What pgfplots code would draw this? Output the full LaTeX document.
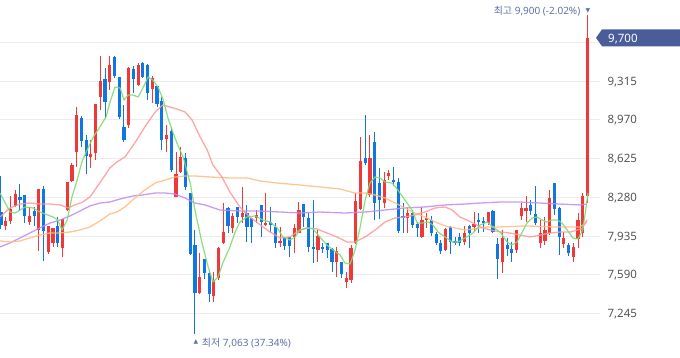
\documentclass[border=0pt]{standalone}
\usepackage{fontspec}
\setmainfont{Noto Sans}
\newfontfamily\cjk{Noto Sans CJK KR}
\newfontfamily\sym{DejaVu Sans}
\usepackage{pgfplots}
\pgfplotsset{compat=1.18}
\usepackage{pgfplotstable}
\usetikzlibrary{calc}
\definecolor{cRed}{RGB}{240,56,56}
\definecolor{cBlue}{RGB}{16,118,228}
\definecolor{cGreen}{RGB}{125,220,115}
\definecolor{cPink}{RGB}{255,150,150}
\definecolor{cOrange}{RGB}{255,187,128}
\definecolor{cPurple}{RGB}{192,138,245}
\definecolor{cGrid}{RGB}{236,236,236}
\definecolor{cTick}{RGB}{85,85,85}
\definecolor{cLab}{RGB}{96,112,170}
\definecolor{cTag}{RGB}{74,93,153}

\pgfplotstableread{
i o h l c
1 8025 8105 7989 8069
2 8069 8292 8042 8176
3 8203 8345 8194 8309
6 8060 8194 8034 8114
8 7989 8354 7802 8354
10 7793 8025 7775 8025
11 7873 8007 7838 8007
13 7829 8087 7748 8087
14 8167 8416 8158 8416
15 8425 8585 8416 8568
16 8684 9084 8550 9013
19 8639 8790 8541 8666
20 8675 9111 8612 9111
21 9173 9538 9057 9315
23 9307 9538 9235 9458
27 8924 9440 8897 9431
29 9280 9476 9271 9458
32 9244 9360 9120 9342
35 8799 8924 8684 8835
37 8283 8684 8280 8487
38 8505 8728 8496 8639
42 7428 7784 7419 7571
45 7401 7615 7348 7544
46 7562 7835 7544 7829
47 7873 8229 7868 7971
49 8007 8140 7962 8114
51 8105 8372 8051 8140
54 8096 8167 8051 8122
56 8034 8318 8025 8051
59 7873 8016 7838 7891
62 7927 8042 7784 8007
63 7962 8238 7958 8167
67 7811 7989 7704 7936
71 7704 7838 7571 7802
73 7526 7615 7473 7562
74 7544 7855 7517 7829
75 7873 8318 7864 8247
76 8176 8817 8167 8603
78 8300 8835 8283 8630
81 8229 8505 8185 8434
82 8470 8523 8434 8496
86 8096 8185 7962 8140
89 7927 8194 7922 8078
90 8078 8140 8007 8096
94 7811 8007 7802 7998
98 7882 8025 7855 7962
100 8016 8149 7971 8042
103 8051 8153 8034 8149
106 7704 7989 7606 7918
109 7811 7993 7784 7989
110 8114 8229 8078 8185
111 8158 8292 8060 8185
114 7873 8078 7829 7962
115 7891 8105 7855 7989
116 7962 8345 7944 8274
119 7864 7971 7829 7918
121 7748 7873 7704 7838
122 7909 8140 7829 8078
123 7962 8318 7927 8292
124 8292 9900 8229 9700
}\redT

\pgfplotstableread{
i o h l c
0 8149 8470 7998 8034
4 8283 8398 8167 8256
5 8300 8300 8051 8114
7 8158 8194 8025 8114
9 8354 8381 7713 7980
12 8025 8105 7838 7873
17 8986 9004 8728 8781
18 8790 8835 8487 8648
22 9333 9431 8977 9128
24 9529 9538 9342 9360
25 9351 9351 8977 8995
26 8906 9102 8772 8790
28 9422 9449 9209 9333
30 9476 9485 9345 9351
31 9458 9465 9146 9209
33 9271 9275 9084 9111
34 9137 9173 8701 8790
36 8870 8906 8505 8523
39 8630 8675 8345 8372
40 8318 8320 7766 7775
41 7855 7989 7063 7428
43 7731 7735 7553 7606
44 7606 7630 7348 7419
48 8185 8194 7962 8025
50 8194 8198 8051 8105
52 8140 8212 7882 8016
53 8096 8100 7873 8016
55 8212 8215 7927 8060
57 8060 8194 7962 8034
58 8016 8051 7829 7873
60 7918 7920 7811 7846
61 7927 7930 7748 7846
64 8220 8224 8016 8105
65 8096 8140 7793 7838
66 7838 8256 7695 7825
68 7838 7873 7784 7820
69 7873 7877 7740 7811
70 7820 7825 7615 7704
72 7704 7708 7562 7597
77 8630 9013 8568 8585
79 8772 8861 8078 8229
80 8407 8541 8087 8256
83 8434 8550 8381 8416
84 8416 8452 7962 7980
85 8114 8229 7962 8096
87 8140 8167 8007 8034
88 8042 8060 7927 8007
91 8078 8114 7936 7962
92 7953 7971 7855 7873
93 7873 7900 7775 7802
95 8016 8020 7775 7882
96 7887 7927 7855 7873
97 7927 7962 7846 7873
99 8025 8034 7829 7962
101 8078 8140 7962 8060
102 8069 8105 7971 8047
104 8158 8167 7962 7971
105 7864 7918 7553 7731
107 7855 7918 7757 7820
108 7820 7882 7704 7784
112 8212 8256 8122 8158
113 8131 8381 8034 8051
117 8407 8410 8122 8176
118 8185 8190 7766 7927
120 7855 7873 7757 7784
}\blueT

\newcommand\tickfont{\fontsize{11.5}{13}\selectfont}

\begin{document}
\begin{tikzpicture}[x=1pt,y=1pt]
\path[use as bounding box] (0,0) rectangle (680,358);
\begin{axis}[
  at={(0pt,0pt)}, anchor=south west,
  width=600pt, height=358pt, scale only axis,
  xmin=-0.211, xmax=126.64, ymin=6849, ymax=10037,
  clip=false,
  axis line style={draw=none},
  major tick length=0pt,
  xtick=\empty,
  ytick={7245,7590,7935,8280,8625,8970,9315,9660},
  yticklabels={{7,245},{7,590},{7,935},{8,280},{8,625},{8,970},{9,315},{}},
  yticklabel pos=right,
  yticklabel style={anchor=west, xshift=4pt, text depth=0pt, font=\tickfont, text=cTick},
  ymajorgrids,
  grid style={draw=cGrid, line width=0.8pt},
  candle/.style={draw=none, mark=none, forget plot, error bars/.cd, y dir=both, y explicit, error mark=none},
]
% wicks
\addplot[candle, error bar style={draw=cRed, solid, line width=1pt}]
  table[x=i, y expr={(\thisrow{h}+\thisrow{l})/2}, y error expr={(\thisrow{h}-\thisrow{l})/2}] {\redT};
\addplot[candle, error bar style={draw=cBlue, solid, line width=1pt}]
  table[x=i, y expr={(\thisrow{h}+\thisrow{l})/2}, y error expr={(\thisrow{h}-\thisrow{l})/2}] {\blueT};
% bodies
\addplot[candle, error bar style={draw=cRed, solid, line width=3.2pt}]
  table[x=i, y expr={(\thisrow{o}+\thisrow{c})/2}, y error expr={max(abs(\thisrow{c}-\thisrow{o})/2,6)}] {\redT};
\addplot[candle, error bar style={draw=cBlue, solid, line width=3.2pt}]
  table[x=i, y expr={(\thisrow{o}+\thisrow{c})/2}, y error expr={max(abs(\thisrow{c}-\thisrow{o})/2,6)}] {\blueT};

% moving averages
\addplot[cPurple, line width=1.3pt, opacity=0.85, mark=none, line join=round] coordinates {
(-0.2,7838) (1.9,7873) (4.0,7918) (6.1,7962) (8.2,8007) (10.4,8051) (12.5,8078) (14.6,8114) (16.7,8158) (18.8,8203) (20.9,8229) (23.0,8238) (25.2,8265) (27.9,8292) (29.8,8300) (32.6,8318) (34.7,8318) (36.8,8309) (38.9,8274) (41.0,8229) (43.1,8212) (46.3,8167) (50.5,8158) (54.8,8158) (59.0,8149) (63.2,8140) (67.4,8149) (72.7,8140) (77.0,8149) (81.2,8167) (85.4,8185) (89.6,8194) (93.9,8212) (98.1,8220) (101.3,8229) (105.5,8238) (109.7,8238) (114.0,8229) (118.2,8220) (122.4,8212) (123.9,8220)
};
\addplot[cOrange, line width=1.3pt, opacity=0.85, mark=none, line join=round] coordinates {
(-0.2,7891) (1.9,7882) (4.0,7891) (6.1,7918) (8.2,7944) (10.4,7962) (12.5,7962) (14.6,7971) (16.7,7989) (18.8,8016) (20.9,8069) (23.0,8131) (24.5,8149) (26.2,8194) (28.3,8274) (30.4,8345) (32.6,8407) (34.7,8434) (36.8,8461) (38.9,8470) (41.0,8470) (44.2,8461) (48.4,8452) (52.0,8452) (54.8,8425) (58.4,8407) (63.2,8390) (67.4,8372) (71.7,8354) (74.8,8318) (77.0,8318) (79.1,8300) (81.2,8274) (83.3,8229) (85.4,8185) (87.5,8140) (89.6,8105) (91.8,8060) (93.9,8025) (96.0,8007) (98.1,7989) (99.8,7998) (102.8,8016) (105.5,8016) (111.2,8025) (116.7,8016) (122.4,8016) (123.9,8060)
};
\addplot[cPink, line width=1.3pt, opacity=0.85, mark=none, line join=round] coordinates {
(-0.2,8105) (1.9,8185) (4.0,8220) (6.1,8229) (8.2,8220) (10.4,8220) (12.5,8212) (14.2,8185) (15.6,8212) (17.3,8238) (18.8,8283) (20.3,8372) (21.6,8452) (23.0,8541) (24.5,8594) (26.2,8639) (28.3,8764) (30.4,8906) (32.6,9040) (34.2,9102) (35.7,9084) (37.2,9066) (38.9,9040) (40.4,8968) (42.1,8817) (43.6,8701) (44.8,8568) (46.7,8461) (48.4,8327) (50.5,8194) (52.6,8105) (54.8,8034) (56.9,7971) (59.0,7918) (61.1,7927) (63.2,7989) (64.9,8007) (66.8,7998) (68.9,7962) (71.0,7927) (73.2,7882) (74.8,7882) (77.0,7927) (79.1,7989) (81.2,8060) (83.3,8096) (85.4,8105) (87.5,8122) (89.6,8149) (91.8,8185) (93.9,8194) (95.4,8167) (97.0,8105) (98.5,8078) (99.8,8051) (101.3,8016) (103.4,7989) (105.5,7971) (107.6,7962) (109.7,7944) (111.8,7927) (114.0,7944) (116.1,7962) (118.2,7971) (120.3,7971) (121.8,7989) (122.8,7998) (123.9,8078)
};
\addplot[cGreen, line width=1.2pt, opacity=0.9, mark=none, line join=round] coordinates {
(-0.2,8318) (1.9,8149) (3.0,8140) (5.1,8194) (6.8,8185) (8.2,8149) (9.9,8122) (11.0,8105) (12.0,8078) (12.9,7989) (14.0,8078) (15.0,8283) (16.1,8434) (17.1,8594) (18.2,8701) (19.5,8817) (20.9,8906) (22.2,8995) (23.0,9120) (24.1,9262) (25.2,9253) (26.0,9146) (26.9,9191) (27.9,9191) (29.0,9173) (30.0,9253) (31.1,9351) (32.1,9324) (33.2,9262) (34.3,9146) (35.3,8986) (36.4,8853) (37.2,8764) (38.5,8639) (40.0,8407) (41.0,8167) (42.5,7873) (43.8,7660) (44.8,7526) (45.9,7571) (46.9,7695) (48.4,7838) (49.5,7971) (50.5,8060) (52.0,8105) (53.7,8114) (55.4,8078) (56.9,8060) (58.4,8007) (59.6,7927) (61.1,7900) (62.2,7927) (63.2,7989) (64.7,8007) (66.0,7998) (67.4,7927) (68.9,7855) (70.2,7811) (71.7,7766) (72.7,7695) (73.8,7686) (74.8,7802) (75.9,8007) (77.0,8256) (78.0,8407) (79.1,8461) (80.1,8452) (81.2,8416) (82.7,8407) (83.9,8345) (85.4,8256) (86.9,8167) (88.0,8051) (89.0,8051) (90.3,8060) (91.3,8034) (92.4,7971) (93.9,7927) (95.4,7882) (96.6,7882) (98.1,7918) (99.8,7962) (101.3,8034) (102.8,8060) (104.0,8016) (105.5,7971) (107.0,7882) (108.0,7855) (109.1,7882) (110.2,7971) (111.2,8051) (112.3,8096) (113.3,8105) (114.4,8078) (115.4,8060) (116.5,8078) (117.6,8078) (118.6,8051) (119.7,7989) (120.9,7918) (122.0,7909) (123.0,7989) (123.7,8194) (124.1,8318)
};

% high / low annotations
\node[anchor=south east, inner sep=0pt, text=cLab, font=\fontsize{10}{12}\selectfont, text height=7.5pt, text depth=2pt]
  at ($(axis cs:124,9900)+(-7pt,-1pt)$) {{\cjk 최고} 9,900 (-2.02\%)};
\node[inner sep=0pt, text=cLab, font=\fontsize{6}{7}\sym, text height=3.5pt, text depth=0pt] at ($(axis cs:124,9900)+(0.5pt,5pt)$) {▼};
\node[inner sep=0pt, text=cLab, font=\fontsize{6}{7}\sym, text height=3.5pt, text depth=0pt] at ($(axis cs:41,7063)+(1pt,-8pt)$) {▲};
\node[anchor=west, inner sep=0pt, text=cLab, font=\fontsize{10}{12}\selectfont]
  at ($(axis cs:41,7063)+(6.8pt,-9pt)$) {{\cjk 최저} 7,063 (37.34\%)};

% last price tag
\fill[cTag] (axis cs:125.8,9700) -- ++(6pt,8.5pt) -- ++(80pt,0pt) -- ++(0pt,-17pt) -- ++(-80pt,0pt) -- cycle;
\node[anchor=west, inner sep=0pt, text=white, font=\tickfont, text depth=0pt] at ($(axis cs:125.8,9700)+(12pt,0pt)$) {9,700};
\end{axis}
\end{tikzpicture}
\end{document}
